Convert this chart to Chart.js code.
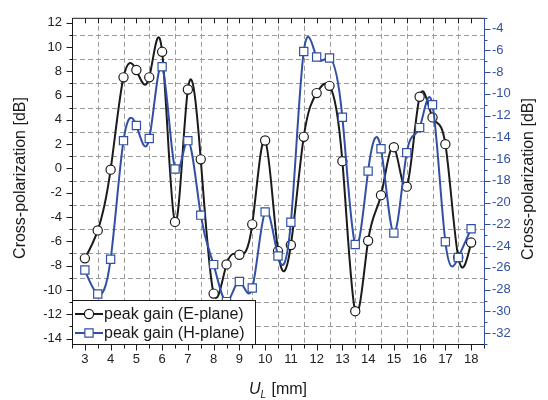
<!DOCTYPE html>
<html>
<head>
<meta charset="utf-8">
<script src="https://cdn.jsdelivr.net/npm/chart.js@4/dist/chart.umd.min.js"></script>
<style>
  html, body { margin: 0; padding: 0; background: #fff; }
  canvas { display: block; }
</style>
</head>
<body>
<canvas id="xpolChart" width="548" height="400"></canvas>
<script>
'use strict';

// U_L sweep in mm, one sample every 0.5 mm
const U_MM = [3, 3.5, 4, 4.5, 5, 5.5, 6, 6.5, 7, 7.5, 8, 8.5, 9, 9.5, 10, 10.5,
  11, 11.5, 12, 12.5, 13, 13.5, 14, 14.5, 15, 15.5, 16, 16.5, 17, 17.5, 18];

// cross-polarization, left axis (dB)
const E_PLANE = [-7.4, -5.1, -0.1, 7.5, 8.1, 7.5, 9.6, -4.4, 6.5, 0.75, -10.3, -7.9,
  -7.1, -4.6, 2.3, -6.8, -6.3, 2.6, 6.2, 6.8, 0.6, -11.75, -5.95, -2.2, 1.75, -1.5,
  5.9, 4.2, 2.0, -7.3, -6.1];

// cross-polarization, right axis (dB)
const H_PLANE = [-26.2, -28.4, -25.2, -14.3, -12.9, -14.1, -7.5, -16.9, -14.3, -21.15,
  -25.7, -29.1, -27.25, -27.85, -20.85, -24.9, -21.8, -6.1, -6.6, -6.7, -12.15, -23.85,
  -17.1, -15.05, -22.8, -15.4, -13.1, -11.0, -23.6, -25.05, -22.4];

const X_TICKS = [3, 4, 5, 6, 7, 8, 9, 10, 11, 12, 13, 14, 15, 16, 17, 18];
const LEFT_TICKS = [12, 10, 8, 6, 4, 2, 0, -2, -4, -6, -8, -10, -12, -14];
const RIGHT_TICKS = [-4, -6, -8, -10, -12, -14, -16, -18, -20, -22, -24, -26, -28, -30, -32];

const SERIES_LABELS = ['peak gain (E-plane)', 'peak gain (H-plane)'];
const Y_TITLE = 'Cross-polarization [dB]';

const BLACK = '#1b1b1b';
const BLUE = '#3150a4';
const GRID = '#9a9a9a';
const FONT = "'Liberation Sans', Arial, sans-serif";

function pts(ys) {
  return U_MM.map(function (x, i) { return { x: x, y: ys[i] }; });
}

function hline(ctx, x1, x2, y) { ctx.beginPath(); ctx.moveTo(x1, y); ctx.lineTo(x2, y); ctx.stroke(); }
function vline(ctx, x, y1, y2) { ctx.beginPath(); ctx.moveTo(x, y1); ctx.lineTo(x, y2); ctx.stroke(); }

// Origin-style natural spline: reshape the bezier handles Chart.js put on each point
function naturalHandles(points) {
  const n = points.length;
  if (n < 3) return;
  const h = [], d = [], M = new Array(n).fill(0);
  const b = [], c = [], r = [];
  let i;
  for (i = 0; i < n - 1; i++) {
    h[i] = points[i + 1].x - points[i].x;
    d[i] = (points[i + 1].y - points[i].y) / h[i];
  }
  for (i = 1; i < n - 1; i++) {
    b[i] = 2 * (h[i - 1] + h[i]);
    c[i] = h[i];
    r[i] = 6 * (d[i] - d[i - 1]);
  }
  for (i = 2; i < n - 1; i++) {
    const w = h[i - 1] / b[i - 1];
    b[i] -= w * c[i - 1];
    r[i] -= w * r[i - 1];
  }
  for (i = n - 2; i >= 1; i--) {
    M[i] = (r[i] - c[i] * M[i + 1]) / b[i];
  }
  const slope = [];
  for (i = 0; i < n - 1; i++) slope[i] = d[i] - h[i] * (2 * M[i] + M[i + 1]) / 6;
  slope[n - 1] = d[n - 2] + h[n - 2] * (M[n - 2] + 2 * M[n - 1]) / 6;
  points.forEach(function (p, k) {
    if (k > 0) { p.cp1x = p.x - h[k - 1] / 3; p.cp1y = p.y - h[k - 1] / 3 * slope[k]; }
    if (k < n - 1) { p.cp2x = p.x + h[k] / 3; p.cp2y = p.y + h[k] / 3 * slope[k]; }
  });
}

const splinePlugin = {
  id: 'spline',
  afterDatasetsUpdate: function (chart) {
    chart.data.datasets.forEach(function (_ds, i) {
      const line = chart.getDatasetMeta(i).dataset;
      if (!line) return;
      line.updateControlPoints(chart.chartArea, 'x');
      naturalHandles(line.points);
    });
  }
};

// dashed grid on the minor positions, plus the axis frame with major/minor ticks
const framePlugin = {
  id: 'frame',
  beforeDatasetsDraw: function (chart) {
    const ctx = chart.ctx, a = chart.chartArea, s = chart.scales;
    ctx.save();
    ctx.strokeStyle = GRID;
    ctx.lineWidth = 1;
    ctx.setLineDash([5, 3]);
    for (let v = -13; v <= 11; v += 2) {
      hline(ctx, a.left, a.right, Math.round(s.y.getPixelForValue(v)) + 0.5);
    }
    for (let v = 3.5; v <= 17.5; v += 1) {
      vline(ctx, Math.round(s.x.getPixelForValue(v)) + 0.5, a.top, a.bottom);
    }
    ctx.restore();
  },
  afterDraw: function (chart) {
    const ctx = chart.ctx, a = chart.chartArea, s = chart.scales;
    const L = a.left + 0.5, R = a.right + 0.5, T = a.top + 0.5, B = a.bottom + 0.5;
    ctx.save();
    ctx.lineWidth = 1;
    ctx.strokeStyle = BLACK;
    hline(ctx, L, R, T);
    hline(ctx, L, R, B);
    vline(ctx, L, T, B);
    for (let v = 2.5; v <= 18.5; v += 0.5) {
      const x = Math.round(s.x.getPixelForValue(v)) + 0.5;
      const major = v % 1 === 0;
      vline(ctx, x, B, B + (major ? 6 : 4));
      vline(ctx, x, T, T + 5);
    }
    for (let v = -14; v <= 12; v += 1) {
      const y = Math.round(s.y.getPixelForValue(v)) + 0.5;
      hline(ctx, L - (v % 2 === 0 ? 6 : 3), L, y);
    }
    ctx.strokeStyle = BLUE;
    vline(ctx, R, T, B);
    for (let v = -33; v <= -3; v += 1) {
      const y = Math.round(s.y1.getPixelForValue(v)) + 0.5;
      hline(ctx, R, R + (v % 2 === 0 ? 6 : 3), y);
    }

    // axis titles
    ctx.fillStyle = '#1a1a1a';
    ctx.font = '16px ' + FONT;
    ctx.textAlign = 'center';
    ctx.textBaseline = 'middle';
    [[21, 178], [529, 179]].forEach(function (p) {
      ctx.save();
      ctx.translate(p[0], p[1]);
      ctx.rotate(-Math.PI / 2);
      ctx.fillText(Y_TITLE, 0, 0);
      ctx.restore();
    });

    ctx.textAlign = 'left';
    ctx.textBaseline = 'alphabetic';
    const base = 394;
    ctx.font = 'italic 16px ' + FONT;
    const wU = ctx.measureText('U').width;
    ctx.font = 'italic 10px ' + FONT;
    const wL = ctx.measureText('L').width;
    ctx.font = '16px ' + FONT;
    const wRest = ctx.measureText(' [mm]').width;
    let x = 278 - (wU + wL + 1 + wRest) / 2;
    ctx.font = 'italic 16px ' + FONT;
    ctx.fillText('U', x, base);
    x += wU;
    ctx.font = 'italic 10px ' + FONT;
    ctx.fillText('L', x, base + 4);
    x += wL + 1;
    ctx.font = '16px ' + FONT;
    ctx.fillText(' [mm]', x, base);
    ctx.restore();
  }
};

// boxed legend sitting in the lower-left corner of the plot
const legendPlugin = {
  id: 'legendBox',
  afterDatasetsDraw: function (chart) {
    const ctx = chart.ctx, a = chart.chartArea;
    const box = { x: a.left + 0.5, y: 300.5, w: 183, h: a.bottom - 300 };
    ctx.save();
    ctx.fillStyle = '#fff';
    ctx.fillRect(box.x, box.y, box.w, box.h);
    ctx.strokeStyle = BLACK;
    ctx.lineWidth = 1;
    ctx.strokeRect(box.x, box.y, box.w, box.h);

    chart.data.datasets.forEach(function (ds, i) {
      const y = 314 + i * 19;
      ctx.strokeStyle = ds.borderColor;
      ctx.lineWidth = 2;
      hline(ctx, 75, 103, y);
      ctx.fillStyle = '#fff';
      ctx.lineWidth = ds.pointBorderWidth;
      ctx.beginPath();
      if (ds.pointStyle === 'rect') {
        const hs = ds.pointRadius * Math.SQRT1_2;
        ctx.rect(89 - hs, y - hs, 2 * hs, 2 * hs);
      } else {
        ctx.arc(89, y, ds.pointRadius, 0, Math.PI * 2);
      }
      ctx.fill();
      ctx.stroke();
      ctx.fillStyle = '#1a1a1a';
      ctx.font = '16px ' + FONT;
      ctx.textBaseline = 'middle';
      ctx.textAlign = 'left';
      ctx.fillText(ds.label, 104, y + 1);
    });
    ctx.restore();
  }
};

const tickFont = { family: FONT, size: 13 };

new Chart(document.getElementById('xpolChart'), {
  type: 'line',
  data: {
    datasets: [
      {
        label: SERIES_LABELS[0],
        data: pts(E_PLANE),
        yAxisID: 'y',
        borderColor: BLACK,
        borderWidth: 2,
        tension: 0.4,
        pointStyle: 'circle',
        pointRadius: 4.6,
        pointBackgroundColor: '#fff',
        pointBorderColor: BLACK,
        pointBorderWidth: 1.2,
        order: 2,
      },
      {
        label: SERIES_LABELS[1],
        data: pts(H_PLANE),
        yAxisID: 'y1',
        borderColor: BLUE,
        borderWidth: 2,
        tension: 0.4,
        pointStyle: 'rect',
        pointRadius: 5.8,
        pointBackgroundColor: '#fff',
        pointBorderColor: BLUE,
        pointBorderWidth: 1.2,
        order: 1,
      },
    ],
  },
  options: {
    responsive: false,
    animation: false,
    events: [],
    layout: { padding: { top: 10, left: 0, right: 0, bottom: 0 } },
    plugins: {
      legend: { display: false },
      tooltip: { enabled: false },
    },
    scales: {
      x: {
        type: 'linear',
        min: 2.5,
        max: 18.5,
        afterBuildTicks: function (s) { s.ticks = X_TICKS.map(function (v) { return { value: v }; }); },
        afterFit: function (s) { s.height = 56; },
        grid: { display: false, drawTicks: false },
        border: { display: false },
        ticks: { padding: 8, font: tickFont, color: '#222', maxRotation: 0, autoSkip: false },
      },
      y: {
        position: 'left',
        min: -14.45,
        max: 12.4,
        afterBuildTicks: function (s) { s.ticks = LEFT_TICKS.map(function (v) { return { value: v }; }); },
        afterFit: function (s) { s.width = 72; },
        grid: { display: false, drawTicks: false },
        border: { display: false },
        ticks: { padding: 10, font: tickFont, color: '#222', autoSkip: false },
      },
      y1: {
        position: 'right',
        min: -33,
        max: -3,
        afterBuildTicks: function (s) { s.ticks = RIGHT_TICKS.map(function (v) { return { value: v }; }); },
        afterFit: function (s) { s.width = 64; },
        grid: { display: false, drawTicks: false },
        border: { display: false },
        ticks: { padding: 8, font: tickFont, color: BLUE, autoSkip: false },
      },
    },
  },
  plugins: [splinePlugin, framePlugin, legendPlugin],
});
</script>
</body>
</html>
